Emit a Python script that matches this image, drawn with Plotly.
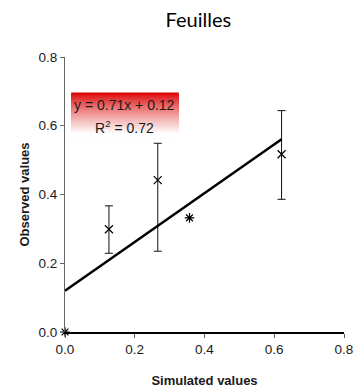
import plotly.graph_objects as go

# Data
sim = [0.0, 0.126, 0.266, 0.357, 0.621]
obs = [0.0, 0.299, 0.442, 0.332, 0.517]
err_plus = [0.0, 0.068, 0.107, 0.0, 0.127]
err_minus = [0.0, 0.070, 0.207, 0.0, 0.131]
marker_kind = ["asterisk-open", "x-thin-open", "x-thin-open", "asterisk-open", "x-thin-open"]
slope = 0.71
intercept = 0.12
r2 = 0.72
x_ticks = [0.0, 0.2, 0.4, 0.6, 0.8]
y_ticks = [0.0, 0.2, 0.4, 0.6, 0.8]

fig = go.Figure()

# Error bars (only where present)
keep = [i for i in range(len(sim)) if err_plus[i] > 0 or err_minus[i] > 0]
fig.add_trace(go.Scatter(
    x=[sim[i] for i in keep], y=[obs[i] for i in keep], mode="markers",
    marker=dict(size=1, color="rgba(0,0,0,0)"),
    error_y=dict(type="data", symmetric=False,
                 array=[err_plus[i] for i in keep],
                 arrayminus=[err_minus[i] for i in keep],
                 color="#111111", thickness=1, width=4),
    showlegend=False, hoverinfo="skip"))

# Trend line
x_end = max(sim)
fig.add_trace(go.Scatter(
    x=[0.0, x_end], y=[intercept, intercept + slope * x_end],
    mode="lines", line=dict(color="black", width=2.5),
    showlegend=False, hoverinfo="skip"))

# Markers
fig.add_trace(go.Scatter(
    x=sim, y=obs, mode="markers",
    marker=dict(symbol=marker_kind, size=8, color="black",
                line=dict(color="black", width=1.2)),
    showlegend=False, cliponaxis=False))

# Gradient box: overlapping rectangles, each from its top edge to box bottom
bx0, bx1 = 0.018, 0.326
by_top, by_bot = 0.697, 0.564
n = 50
shapes = []
for i in range(n):
    t = i / n
    f = min(1.0, (t ** 0.8) * 1.1)
    r = int(220 + (255 - 220) * f)
    g = int(255 * f)
    b = int(255 * f)
    y_top = by_top - (by_top - by_bot) * t
    shapes.append(dict(type="rect", xref="x", yref="y", x0=bx0, x1=bx1,
                       y0=by_bot, y1=y_top, line=dict(width=0),
                       fillcolor=f"rgb({r},{g},{b})", layer="below"))

fig.update_layout(
    width=364, height=392,
    margin=dict(l=65, r=20, t=57, b=60),
    paper_bgcolor="white", plot_bgcolor="white",
    shapes=shapes,
    title=dict(text="Feuilles", x=0.545, xanchor="center", y=0.95, yanchor="middle",
               font=dict(family="Lato", size=20, color="black")),
    font=dict(family="Liberation Sans, Arial", size=13, color="#1a1a1a"),
    xaxis=dict(range=[0, 0.8], tickvals=x_ticks, ticktext=[f"{v:.1f}" for v in x_ticks],
               showgrid=False, zeroline=False, showline=True, linecolor="black", linewidth=1.5,
               ticks="outside", ticklen=4, tickcolor="#555555", tickwidth=1,
               tickfont=dict(size=13.5, color="#1a1a1a"), automargin=False,
               title=dict(text="<b>Simulated values</b>", font=dict(size=13, color="#1a1a1a"), standoff=20)),
    yaxis=dict(range=[0, 0.8], tickvals=y_ticks, ticktext=[f"{v:.1f}" for v in y_ticks],
               showgrid=False, zeroline=False, showline=True, linecolor="#666666", linewidth=1.2,
               ticks="outside", ticklen=4, tickcolor="#666666", tickwidth=1,
               tickfont=dict(size=13.5, color="#1a1a1a"), automargin=False,
               title=dict(text="<b>Observed values</b>", font=dict(size=13, color="#1a1a1a"), standoff=5)),
    annotations=[
        dict(text=f"y = {slope:.2f}x + {intercept:.2f}", xref="x", yref="y",
             x=(bx0 + bx1) / 2, y=0.659, showarrow=False,
             font=dict(family="Liberation Sans, Arial", size=14, color="#1a1a1a")),
        dict(text=f"R<sup>2</sup> = {r2:.2f}", xref="x", yref="y",
             x=(bx0 + bx1) / 2, y=0.596, showarrow=False,
             font=dict(family="Liberation Sans, Arial", size=14, color="#1a1a1a")),
    ],
)

fig.write_html("out.html", config={"displayModeBar": False},
               post_script="document.body.style.margin='0';")
